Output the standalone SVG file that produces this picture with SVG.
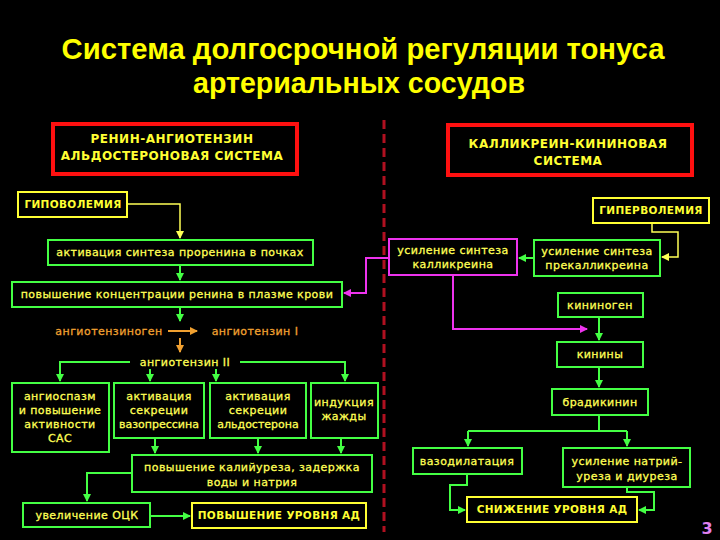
<svg xmlns="http://www.w3.org/2000/svg" width="720" height="540" viewBox="0 0 720 540">
<defs>
<style>
.t{font-family:"DejaVu Sans","Liberation Sans",sans-serif;font-size:11px;letter-spacing:0.45px;fill:#ffff55;stroke:#ffff55;stroke-width:0.3;text-anchor:middle}
.h{font-family:"DejaVu Sans","Liberation Sans",sans-serif;font-size:12px;letter-spacing:0.5px;font-weight:bold;fill:#ffff33;text-anchor:middle}
.hy{font-family:"DejaVu Sans","Liberation Sans",sans-serif;font-size:10.5px;letter-spacing:0.35px;font-weight:bold;fill:#ffff33;text-anchor:middle}
.ti{font-family:"Liberation Sans",Arial,sans-serif;font-size:30px;font-weight:bold;fill:#ffff00;text-anchor:middle}
.g{fill:#000;stroke:#44ff44;stroke-width:2}
.y{fill:#000;stroke:#ffff33;stroke-width:2}
.m{fill:#000;stroke:#ee33ee;stroke-width:2}
.r{fill:#000;stroke:#ff1010;stroke-width:4}
.cg{fill:none;stroke:#44ff44;stroke-width:2}
.cy{fill:none;stroke:#ffff55;stroke-width:1.5}
.cm{fill:none;stroke:#ee33ee;stroke-width:2}
.co{fill:none;stroke:#f0a030;stroke-width:2}
.o{font-family:"DejaVu Sans","Liberation Sans",sans-serif;font-size:11px;letter-spacing:0.45px;fill:#f0a030;stroke:#f0a030;stroke-width:0.3;text-anchor:middle}
</style>
<marker id="ag" viewBox="0 0 8 8" refX="7" refY="4" markerWidth="8" markerHeight="8" markerUnits="userSpaceOnUse" orient="auto"><path d="M0,0 L8,4 L0,8 Z" fill="#44ff44"/></marker>
<marker id="ay" viewBox="0 0 8 8" refX="7" refY="4" markerWidth="8" markerHeight="8" markerUnits="userSpaceOnUse" orient="auto"><path d="M0,0 L8,4 L0,8 Z" fill="#ffff55"/></marker>
<marker id="am" viewBox="0 0 8 8" refX="7" refY="4" markerWidth="8" markerHeight="8" markerUnits="userSpaceOnUse" orient="auto"><path d="M0,0 L8,4 L0,8 Z" fill="#ee33ee"/></marker>
<marker id="ao" viewBox="0 0 8 8" refX="7" refY="4" markerWidth="8" markerHeight="8" markerUnits="userSpaceOnUse" orient="auto"><path d="M0,0 L8,4 L0,8 Z" fill="#f0a030"/></marker>
</defs>
<rect width="720" height="540" fill="#000"/>
<g id="title">
<text class="ti" x="363" y="59" textLength="603" lengthAdjust="spacingAndGlyphs">Система долгосрочной регуляции тонуса</text>
<text class="ti" x="359" y="93" textLength="332" lengthAdjust="spacingAndGlyphs">артериальных сосудов</text>
</g>
<line id="divider" x1="384" y1="120" x2="384" y2="532" stroke="#b01020" stroke-width="3" stroke-dasharray="9,5"/>
<g id="connectors">
<path class="cy" d="M127,204 H180 V238" marker-end="url(#ay)"/>
<path class="cy" d="M652,223 V232 H678 V257 H662" marker-end="url(#ay)"/>
<path class="cg" d="M180,265 V280" marker-end="url(#ag)"/>
<path class="cg" d="M534,258 H519" marker-end="url(#ag)"/>
<path class="cg" d="M180,307 V321" marker-end="url(#ag)"/>
<path class="cg" d="M130,362 H60 V381" marker-end="url(#ag)"/>
<path class="cg" d="M240,362 H345 V381" marker-end="url(#ag)"/>
<path class="cg" d="M150,369 V381" marker-end="url(#ag)"/>
<path class="cg" d="M216,369 V381" marker-end="url(#ag)"/>
<path class="cg" d="M155,438 V453" marker-end="url(#ag)"/>
<path class="cg" d="M258,438 V453" marker-end="url(#ag)"/>
<path class="cg" d="M341,438 V453" marker-end="url(#ag)"/>
<path class="cg" d="M132,473 H87 V501" marker-end="url(#ag)"/>
<path class="cg" d="M150,516 H190" marker-end="url(#ag)"/>
<path class="cg" d="M599,317 V340" marker-end="url(#ag)"/>
<path class="cg" d="M599,367 V387" marker-end="url(#ag)"/>
<path class="cg" d="M599,415 V431 M468,431 H627"/>
<path class="cg" d="M468,431 V446" marker-end="url(#ag)"/>
<path class="cg" d="M627,431 V446" marker-end="url(#ag)"/>
<path class="cg" d="M467,474 V485 H450 V510 H465" marker-end="url(#ag)"/>
<path class="cg" d="M627,487 V492 H654 V510 H639" marker-end="url(#ag)"/>
<path class="cm" d="M389,258 H366 V293 H344" marker-end="url(#am)"/>
<path class="cm" d="M453,275 V329 H587" marker-end="url(#am)"/>
<path class="co" d="M168,331 H197" marker-end="url(#ao)"/>
<path class="co" d="M180,338 V352" marker-end="url(#ao)"/>
</g>
<g id="raas">
<rect class="r" x="53" y="124" width="244" height="50"/>
<text class="h" x="172" y="143">РЕНИН-АНГИОТЕНЗИН</text>
<text class="h" x="172" y="160">АЛЬДОСТЕРОНОВАЯ СИСТЕМА</text>
</g>
<g id="kks">
<rect class="r" x="448" y="125" width="244" height="50"/>
<text class="h" x="568" y="148">КАЛЛИКРЕИН-КИНИНОВАЯ</text>
<text class="h" x="568" y="165">СИСТЕМА</text>
</g>
<g id="hypovol">
<rect class="y" x="18" y="192" width="109" height="25"/>
<text class="hy" x="73" y="208">ГИПОВОЛЕМИЯ</text>
</g>
<g id="hypervol">
<rect class="y" x="593" y="198" width="116" height="25"/>
<text class="hy" x="651" y="214">ГИПЕРВОЛЕМИЯ</text>
</g>
<g id="prorenin">
<rect class="g" x="48" y="240" width="265" height="25"/>
<text class="t" x="180" y="256">активация синтеза проренина в почках</text>
</g>
<g id="renin">
<rect class="g" x="12" y="282" width="330" height="25"/>
<text class="t" x="177" y="298">повышение концентрации ренина в плазме крови</text>
</g>
<g id="angiotensinogen"><text class="o" x="109" y="335">ангиотензиноген</text></g>
<g id="angiotensin1"><text class="o" x="255" y="335">ангиотензин I</text></g>
<g id="angiotensin2"><text class="t" x="185" y="366">ангиотензин II</text></g>
<g id="angiospasm">
<rect class="g" x="12" y="383" width="97" height="69"/>
<text class="t" x="60" y="400">ангиоспазм</text>
<text class="t" x="60" y="414">и повышение</text>
<text class="t" x="60" y="428">активности</text>
<text class="t" x="60" y="442">САС</text>
</g>
<g id="vasopressin">
<rect class="g" x="114" y="383" width="90" height="55"/>
<text class="t" x="159" y="400">активация</text>
<text class="t" x="159" y="414">секреции</text>
<text class="t" x="159" y="428" style="letter-spacing:0">вазопрессина</text>
</g>
<g id="aldosterone">
<rect class="g" x="210" y="383" width="96" height="55"/>
<text class="t" x="258" y="400">активация</text>
<text class="t" x="258" y="414">секреции</text>
<text class="t" x="258" y="428" style="letter-spacing:0">альдостерона</text>
</g>
<g id="thirst">
<rect class="g" x="311" y="383" width="67" height="55"/>
<text class="t" x="344" y="406">индукция</text>
<text class="t" x="344" y="420">жажды</text>
</g>
<g id="kaliuresis">
<rect class="g" x="132" y="455" width="240" height="37"/>
<text class="t" x="252" y="471">повышение калийуреза, задержка</text>
<text class="t" x="252" y="486">воды и натрия</text>
</g>
<g id="ock">
<rect class="g" x="23" y="503" width="127" height="24"/>
<text class="t" x="87" y="519">увеличение ОЦК</text>
</g>
<g id="bp-up">
<rect class="y" x="192" y="503" width="174" height="25"/>
<text class="hy" x="279" y="519">ПОВЫШЕНИЕ УРОВНЯ АД</text>
</g>
<g id="kallikrein">
<rect class="m" x="389" y="239" width="128" height="36"/>
<text class="t" x="453" y="254">усиление синтеза</text>
<text class="t" x="453" y="268">калликреина</text>
</g>
<g id="prekallikrein">
<rect class="g" x="534" y="240" width="126" height="36"/>
<text class="t" x="597" y="255">усиление синтеза</text>
<text class="t" x="597" y="269">прекалликреина</text>
</g>
<g id="kininogen">
<rect class="g" x="558" y="293" width="85" height="24"/>
<text class="t" x="600" y="309">кининоген</text>
</g>
<g id="kinins">
<rect class="g" x="557" y="342" width="86" height="25"/>
<text class="t" x="600" y="358">кинины</text>
</g>
<g id="bradykinin">
<rect class="g" x="552" y="389" width="96" height="26"/>
<text class="t" x="600" y="406">брадикинин</text>
</g>
<g id="vasodilation">
<rect class="g" x="413" y="448" width="109" height="26"/>
<text class="t" x="467" y="465">вазодилатация</text>
</g>
<g id="natriuresis">
<rect class="g" x="563" y="448" width="127" height="39"/>
<text class="t" x="627" y="465">усиление натрий-</text>
<text class="t" x="627" y="480">уреза и диуреза</text>
</g>
<g id="bp-down">
<rect class="y" x="467" y="497" width="170" height="25"/>
<text class="hy" x="552" y="513">СНИЖЕНИЕ УРОВНЯ АД</text>
</g>
<text x="707" y="534" font-family="'DejaVu Sans',sans-serif" font-size="16" font-weight="bold" fill="#e080f0" text-anchor="middle">3</text>
</svg>
